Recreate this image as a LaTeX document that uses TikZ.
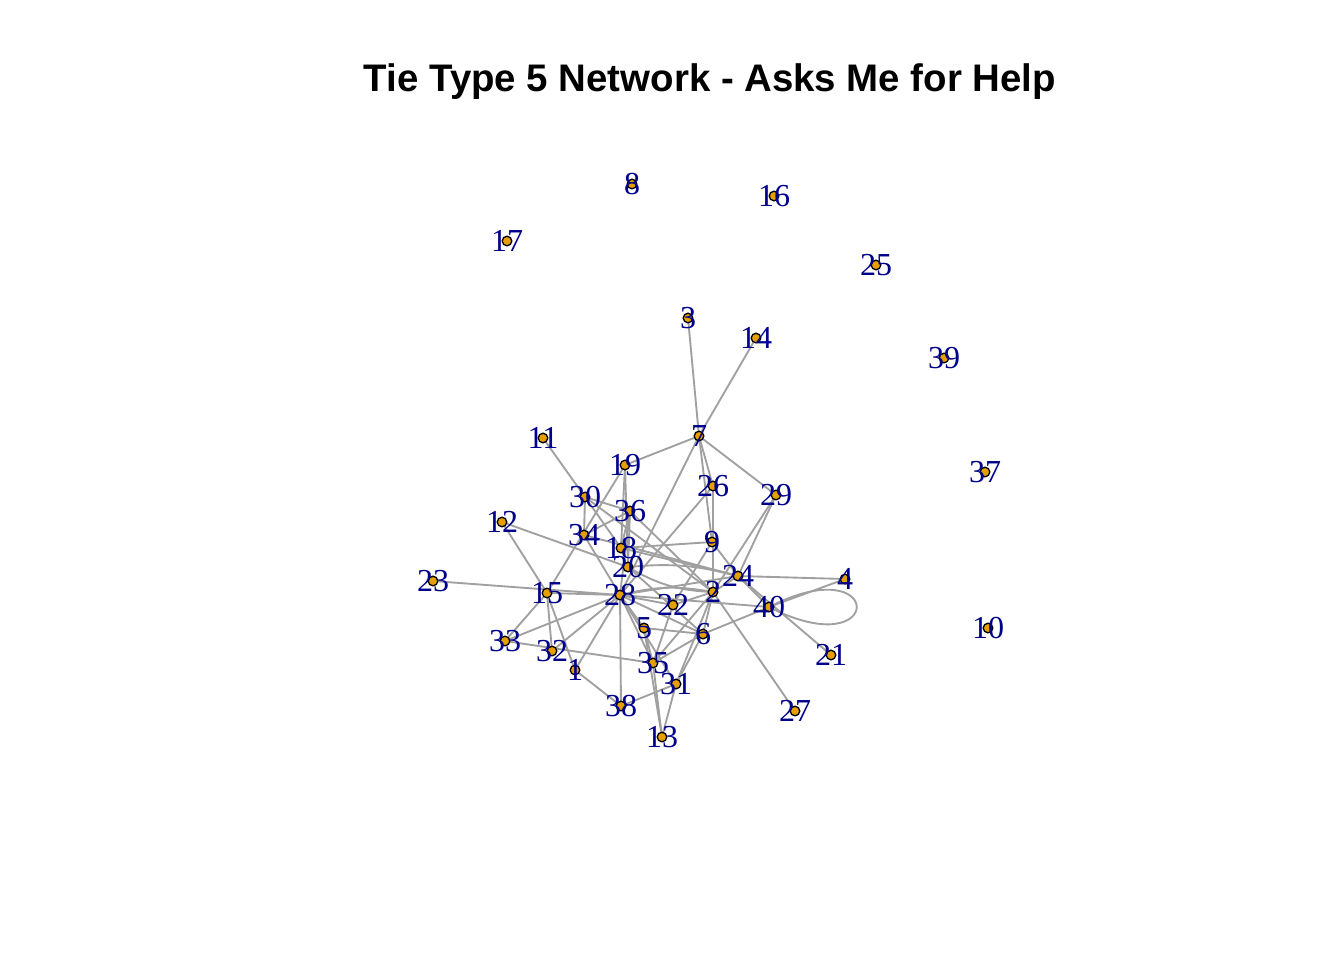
\documentclass[tikz,border=0pt]{standalone}
\usepackage{fontspec}
\setmainfont{Liberation Serif}
\newfontfamily\titlefont{Liberation Sans}
\definecolor{vorange}{HTML}{E69F00}
\definecolor{elabblue}{HTML}{00008B}
\definecolor{edgegray}{HTML}{A0A0A0}
\begin{document}
\begin{tikzpicture}[x=0.375pt, y=-0.375pt,
  vtx/.style={circle, draw=black, fill=vorange, line width=0.5pt, inner sep=0pt, minimum size=3.6pt},
  lab/.style={font=\fontsize{12}{12}\selectfont, text=elabblue, inner sep=0pt},
  edge/.style={draw=edgegray, line width=0.7pt},
  ttl/.style={font=\titlefont\bfseries\fontsize{14.4}{17}\selectfont}]
\useasboundingbox (0,0) rectangle (1344,960);
\node[ttl] (title) at (710,82) {Tie Type 5 Network - Asks Me for Help};
% ---------------- vertex positions ----------------
\foreach \n/\px/\py in {1/575/670, 2/713/592, 3/688/318, 4/845/579, 5/644/628,
  6/703/634, 7/699/436, 8/632/184, 9/712/542, 10/988/628, 11/543/438,
  12/502/522, 13/662/737, 14/756/338, 15/547/593, 16/774/196, 17/507/241,
  18/621/548, 19/625/465, 20/628/567, 21/831/655, 22/673/605, 23/433/581,
  24/738/576, 25/876/265, 26/713/486, 27/795/711, 28/620/595, 29/776/495,
  30/585/497, 31/676/684, 32/552/651, 33/505/641, 34/584/535, 35/653/663,
  36/630/511, 37/985/472, 38/621/706, 39/944/358, 40/769/607}{
  \coordinate (p\n) at (\px,\py);}
% ---------------- ties ----------------
\foreach \a/\b in {3/7, 14/7, 7/19, 7/26, 7/9, 7/29, 7/28, 26/2, 26/28,
  29/24, 29/2, 9/24, 9/18, 9/22, 19/18, 19/20, 19/15, 11/30, 30/34,
  30/36, 30/18, 30/2, 12/20, 12/15, 34/36, 34/28, 34/24, 36/18, 36/28,
  36/20, 36/2, 23/28, 15/28, 15/33, 15/32, 15/1, 33/28, 33/35, 32/28,
  1/28, 1/38, 38/28, 38/31, 28/22, 28/24, 28/40, 28/5, 28/6, 28/35,
  28/31, 5/6, 5/35, 5/13, 35/13, 35/6, 35/22, 35/2, 31/13, 31/2, 31/6,
  6/40, 6/2, 2/24, 2/27, 2/22, 24/4, 24/40, 24/21, 40/4, 18/24, 20/6}{
  \draw[edge] (p\a) -- (p\b);}
\draw[edge] (p28) to[bend left=12] (p2);
\draw[edge] (p20) to[bend left=10] (p24);
\draw[edge] (p2) to[bend left=14] (p20);
\draw[edge] (p40) .. controls +(117,-60) and +(117,60) .. (p40);
% ---------------- vertices and labels ----------------
\foreach \n in {1,...,40}{
  \node[vtx] (v\n) at (p\n) {};}
\foreach \n in {1,...,40}{
  \node[lab] (l\n) at (v\n) {\n};}
\end{tikzpicture}
\end{document}
